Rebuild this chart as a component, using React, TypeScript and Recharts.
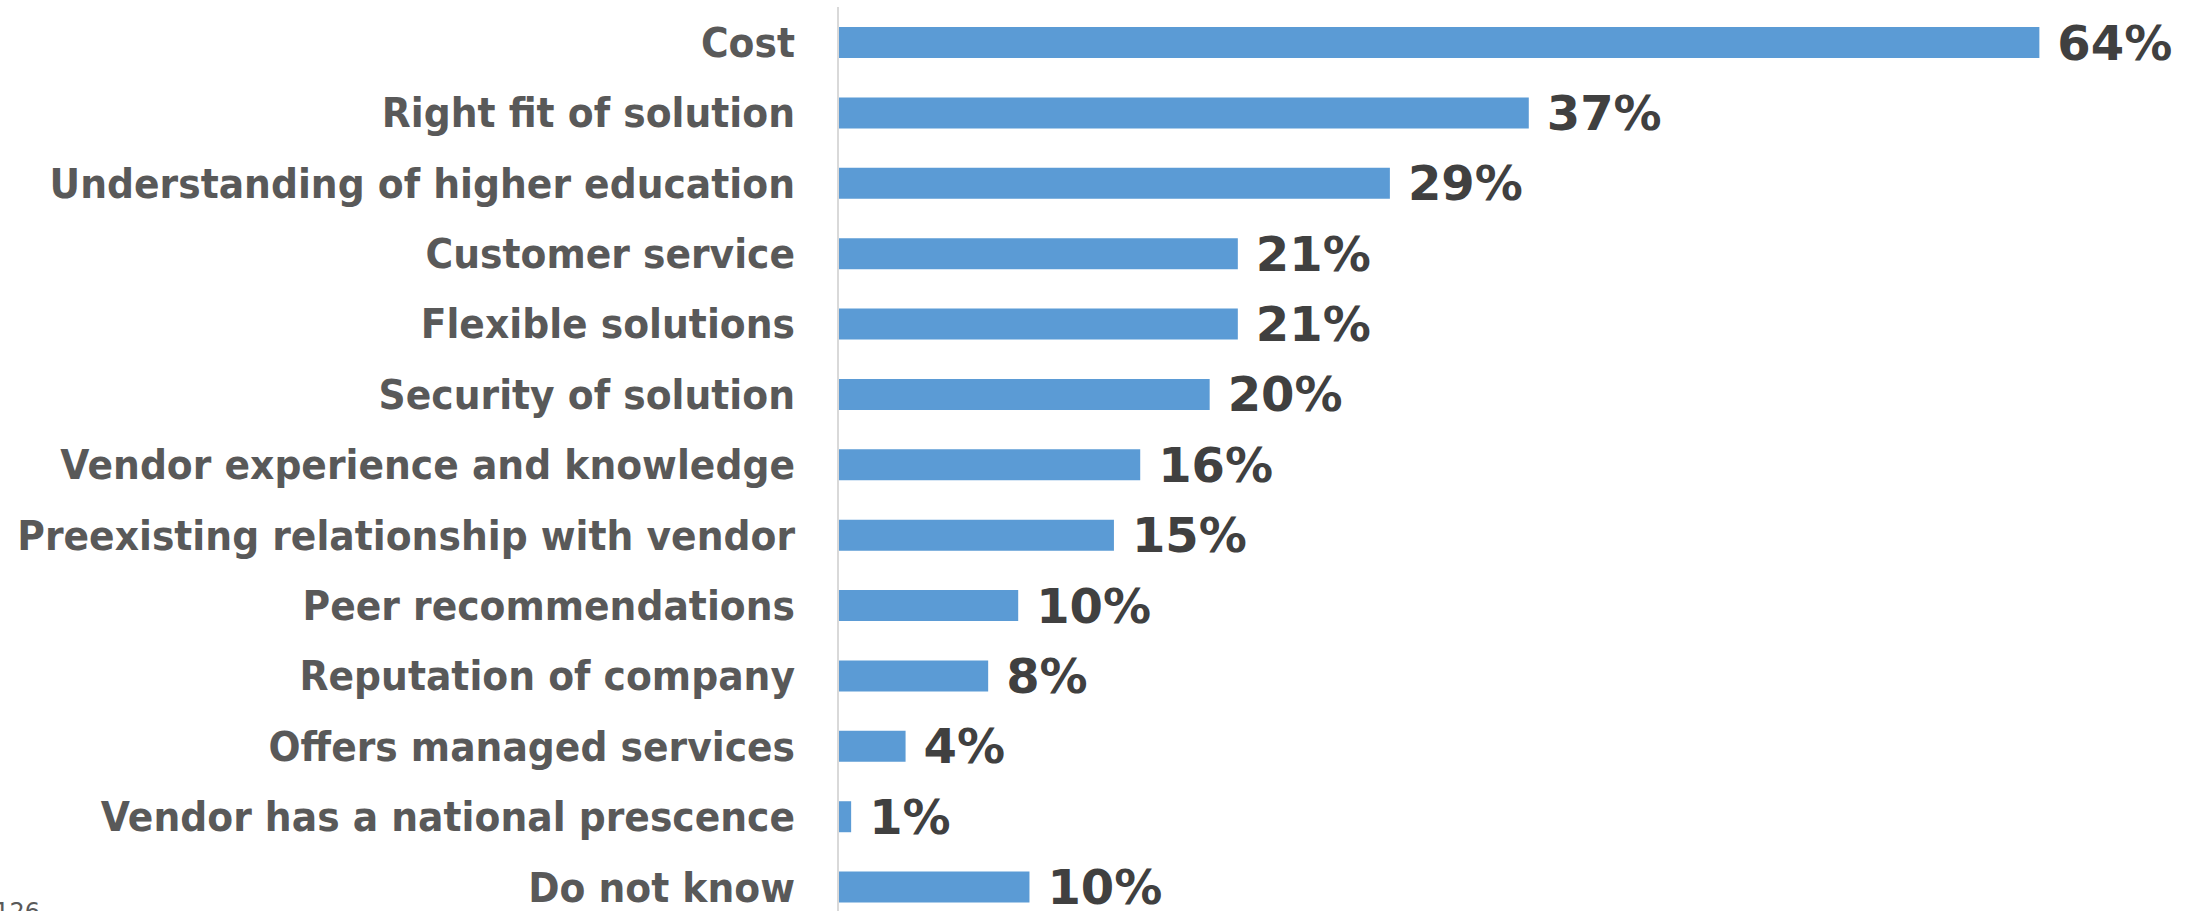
import { BarChart, Bar, XAxis, YAxis, LabelList } from "recharts";

const categories = [
  "Cost",
  "Right fit of solution",
  "Understanding of higher education",
  "Customer service",
  "Flexible solutions",
  "Security of solution",
  "Vendor experience and knowledge",
  "Preexisting relationship with vendor",
  "Peer recommendations",
  "Reputation of company",
  "Offers managed services",
  "Vendor has a national prescence",
  "Do not know"
];

// bar lengths; labels show them rounded
const shares = [64.0, 36.8, 29.4, 21.3, 21.3, 19.8, 16.1, 14.7, 9.6, 8.0, 3.6, 0.7, 10.2];

const sampleNote = "n=126";

const data = categories.map((name, i) => ({ name, value: shares[i] }));

const FONT = '"DejaVu Sans", Verdana, sans-serif';

function CategoryTick(props: any) {
  const { x, y, payload } = props;
  return (
    <g transform={`translate(${x},${y}) scale(0.92,1)`}>
      <text
        x={0}
        y={0}
        dy="0.36em"
        textAnchor="end"
        fill="#595959"
        fontFamily={FONT}
        fontWeight="bold"
        fontSize={41}
      >
        {payload.value}
      </text>
    </g>
  );
}

export default function App() {
  return (
    <div
      style={{
        position: "absolute",
        top: 0,
        left: 0,
        width: 2196,
        height: 911,
        overflow: "hidden",
        background: "#ffffff"
      }}
    >
      <BarChart
        width={2196}
        height={922}
        data={data}
        layout="vertical"
        margin={{ top: 7, right: 44, bottom: 0, left: 0 }}
      >
        <XAxis type="number" domain={[0, 70]} hide />
        <YAxis
          type="category"
          dataKey="name"
          width={838}
          tick={<CategoryTick />}
          tickLine={false}
          tickSize={0}
          tickMargin={43}
          axisLine={{ stroke: "#d9d9d9", strokeWidth: 2 }}
          interval={0}
        />
        <Bar dataKey="value" fill="#5b9bd5" barSize={31} isAnimationActive={false}>
          <LabelList
            dataKey="value"
            position="right"
            offset={18}
            formatter={(v: any) => `${Math.round(Number(v))}%`}
            fill="#404040"
            fontFamily={FONT}
            fontWeight="bold"
            fontSize={48}
          />
        </Bar>
      </BarChart>
      <div
        style={{
          position: "absolute",
          right: 2156,
          top: 900,
          fontFamily: FONT,
          fontSize: 24,
          lineHeight: "24px",
          color: "#595959",
          whiteSpace: "nowrap"
        }}
      >
        {sampleNote}
      </div>
    </div>
  );
}
